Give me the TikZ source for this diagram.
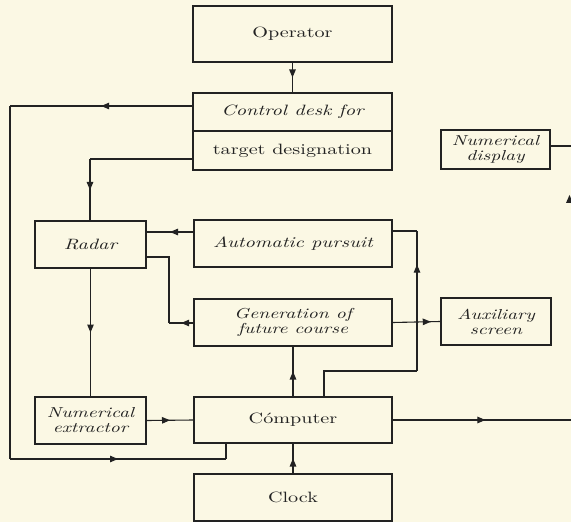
\documentclass[tikz,border=0pt]{standalone}
\usepackage{fontspec}
\setmainfont{lmroman10}[Extension=.otf, UprightFont=*-regular, ItalicFont=*-italic, FakeStretch=1.35]
\usetikzlibrary{arrows.meta,decorations.markings}
\definecolor{paper}{HTML}{FBF8E4}
\definecolor{ink}{HTML}{222222}
\tikzset{
  blk/.style={draw=ink, line width=1.4bp, inner sep=0pt, align=center, text=ink,
    font=\fontsize{15}{13.5}\selectfont},
  two/.style={font=\fontsize{14.5}{15}\selectfont},
  conn/.style={draw=ink, line width=1.1bp},
  marr/.style={postaction={decorate}, decoration={markings,
    mark=at position #1 with {\arrow{Triangle[length=8bp,width=6.5bp]}}}},
  marr/.default=0.5
}
\begin{document}
\begin{tikzpicture}[x=1bp,y=-1bp]
\fill[paper] (0,0) rectangle (571,522);
\useasboundingbox (0,0) rectangle (571,522);

% boxes
\node[blk, minimum width=199bp, minimum height=56bp] (op) at (292.5,34) {Operator};
\node[blk, minimum width=199bp, minimum height=38bp] (ctla) at (292.5,112) {\itshape Control desk for};
\node[blk, minimum width=199bp, minimum height=39bp] (ctlb) at (292.5,150.5) {target designation};
\node[blk, two, minimum width=109bp, minimum height=39bp] (nd) at (495.5,149.5) {\itshape Numerical\\ \itshape display};
\node[blk, minimum width=111bp, minimum height=47bp] (rad) at (90.5,244.5) {\itshape Radar};
\node[blk, minimum width=198bp, minimum height=47bp] (aut) at (293,243.5) {\itshape Automatic pursuit};
\node[blk, two, minimum width=198bp, minimum height=47bp] (gen) at (293,322.5) {\itshape Generation of\\ \itshape future course};
\node[blk, two, minimum width=110bp, minimum height=47bp] (aux) at (496,321.5) {\itshape Auxiliary\\ \itshape screen};
\node[blk, two, minimum width=111bp, minimum height=47bp] (nex) at (90.5,420.5) {\itshape Numerical\\ \itshape extractor};
\node[blk, minimum width=198bp, minimum height=46bp] (cmp) at (293,420) {C\'omputer};
\node[blk, minimum width=198bp, minimum height=47bp] (clk) at (293,497.5) {Clock};

% helper coordinates
\coordinate (lt) at (10,106);
\coordinate (lb) at (10,459);
\coordinate (lc) at (226,459);
\coordinate (rx) at (571,420);
\coordinate (ndx) at (571,146);
\coordinate (rr) at (417,371);
\coordinate (rl) at (324,371);
\coordinate (gr) at (169,323);

% connectors
\draw[conn, marr] (op.south) -- (ctla.north);
\draw[conn, marr] (ctla.west |- lt) -- (lt);
\draw[conn] (lt) -- (lb);
\draw[conn, marr] (lb) -- (lc);
\draw[conn] (lc) -- (lc |- cmp.south);
\draw[conn] (ctlb.west |- 0,159) -- (90,159);
\draw[conn, marr] (90,159) -- (90,221);
\draw[conn, marr] (aut.west |- 0,232) -- (rad.east |- 0,232);
\draw[conn, marr] (gen.west |- gr) -- (gr);
\draw[conn] (gr) -- (169,257) -- (rad.east |- 0,257);
\draw[conn, marr] (rad.south) -- (nex.north);
\draw[conn, marr] (nex.east) -- (cmp.west);
\draw[conn, marr] (clk.north) -- (cmp.south);
\draw[conn, marr] (cmp.north) -- (gen.south);
\draw[conn] (rl |- cmp.north) -- (rl) -- (rr);
\draw[conn, marr=0.76] (rr) -- (rr |- 0,231);
\draw[conn] (rr |- 0,231) -- (aut.east |- 0,231);
\draw[conn, marr=0.8] (gen.east) -- (aux.west);
\draw[conn, marr=0.52] (cmp.east) -- (rx);
\draw[conn] (nd.east |- ndx) -- (ndx);
% fragment of an arrowhead at the right edge
\fill[ink] (566,203) -- (569.5,195) -- (573,203) -- cycle;
\end{tikzpicture}
\end{document}
